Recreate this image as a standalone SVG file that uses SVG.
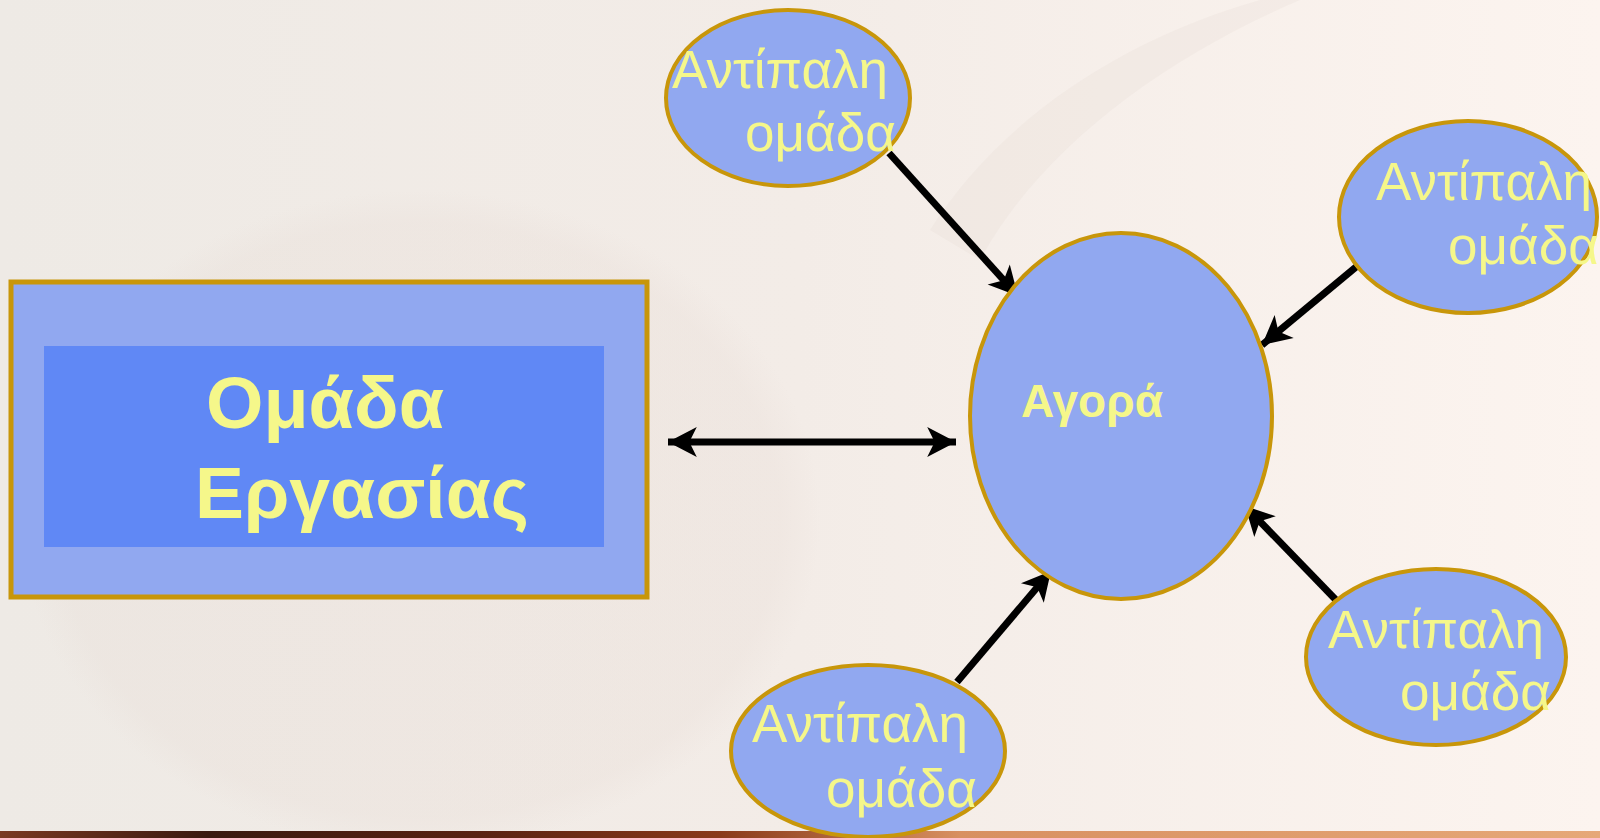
<svg xmlns="http://www.w3.org/2000/svg" width="1600" height="838" viewBox="0 0 1600 838">
<style>
.node{fill:#91A8F0;stroke:#C8960A;stroke-width:4}
.lbl{font-family:"Liberation Sans",Arial,sans-serif;fill:#F5F78A;font-size:53px}
.bold{font-weight:bold}
.conn{stroke:#000;stroke-width:7;fill:none}
</style>
<defs>
<linearGradient id="bg" x1="0" y1="0" x2="1" y2="0">
<stop offset="0" stop-color="#EEEAE5"/>
<stop offset="0.5" stop-color="#F3ECE7"/>
<stop offset="1" stop-color="#FCF4EF"/>
</linearGradient>
<linearGradient id="band" x1="0" y1="0" x2="1" y2="0">
<stop offset="0" stop-color="#7A3A22"/>
<stop offset="0.13" stop-color="#3A1A10"/>
<stop offset="0.3" stop-color="#5A2212"/>
<stop offset="0.45" stop-color="#8A3A1A"/>
<stop offset="0.6" stop-color="#D89060"/>
<stop offset="1" stop-color="#E6A878"/>
</linearGradient>
<radialGradient id="globe" cx="0.5" cy="0.5" r="0.5">
<stop offset="0" stop-color="#E8DCD6" stop-opacity="0.25"/>
<stop offset="0.9" stop-color="#E4D6CF" stop-opacity="0.2"/>
<stop offset="1" stop-color="#E4D6CF" stop-opacity="0"/>
</radialGradient>
<marker id="ah" markerUnits="userSpaceOnUse" markerWidth="32" markerHeight="32" viewBox="-28 -15 30 30" refX="0" refY="0" orient="auto-start-reverse">
<path d="M0,0 L-27,-14 L-20,0 L-27,14 Z" fill="#000"/>
</marker>
</defs>
<rect x="0" y="0" width="1600" height="838" fill="url(#bg)"/>
<ellipse cx="420" cy="520" rx="400" ry="330" fill="url(#globe)"/>
<path d="M930,230 C1000,120 1120,40 1260,0 L1300,0 C1160,60 1040,150 980,260 Z" fill="#E9DDD6" opacity="0.3"/>
<rect x="0" y="831" width="1600" height="7" fill="url(#band)"/>

<g id="connectors">
<line class="conn" x1="889" y1="153" x2="1018" y2="296" marker-end="url(#ah)"/>
<line class="conn" x1="1356" y1="267" x2="1262" y2="345" marker-end="url(#ah)"/>
<line class="conn" x1="1337" y1="601" x2="1245" y2="506" marker-end="url(#ah)"/>
<line class="conn" x1="957" y1="682" x2="1051" y2="571" marker-end="url(#ah)"/>
<line class="conn" x1="668" y1="442" x2="956" y2="442" marker-start="url(#ah)" marker-end="url(#ah)"/>
</g>

<g id="team">
<rect class="node" x="11" y="282" width="636" height="315" style="stroke-width:5"/>
<rect x="44" y="346" width="560" height="201" fill="#6088F5"/>
<text class="lbl bold" style="font-size:72px" x="206" y="428" textLength="238" lengthAdjust="spacingAndGlyphs">Ομάδα</text>
<text class="lbl bold" style="font-size:72px" x="195" y="518" textLength="334" lengthAdjust="spacingAndGlyphs">Εργασίας</text>
</g>

<g id="market">
<ellipse class="node" cx="1121" cy="416" rx="151" ry="183"/>
<text class="lbl bold" style="font-size:46px" x="1021" y="417">Αγορά</text>
</g>

<g id="rival-top">
<ellipse class="node" cx="788" cy="98" rx="122" ry="88"/>
<text class="lbl" x="672" y="88">Αντίπαλη</text>
<text class="lbl" x="745" y="151">ομάδα</text>
</g>

<g id="rival-right-top">
<ellipse class="node" cx="1468" cy="217" rx="129" ry="96"/>
<text class="lbl" x="1376" y="200">Αντίπαλη</text>
<text class="lbl" x="1448" y="264">ομάδα</text>
</g>

<g id="rival-bottom">
<ellipse class="node" cx="868" cy="751" rx="137" ry="86"/>
<text class="lbl" x="752" y="742">Αντίπαλη</text>
<text class="lbl" x="826" y="807">ομάδα</text>
</g>

<g id="rival-right-bottom">
<ellipse class="node" cx="1436" cy="657" rx="130" ry="88"/>
<text class="lbl" x="1328" y="648">Αντίπαλη</text>
<text class="lbl" x="1400" y="710">ομάδα</text>
</g>
</svg>
